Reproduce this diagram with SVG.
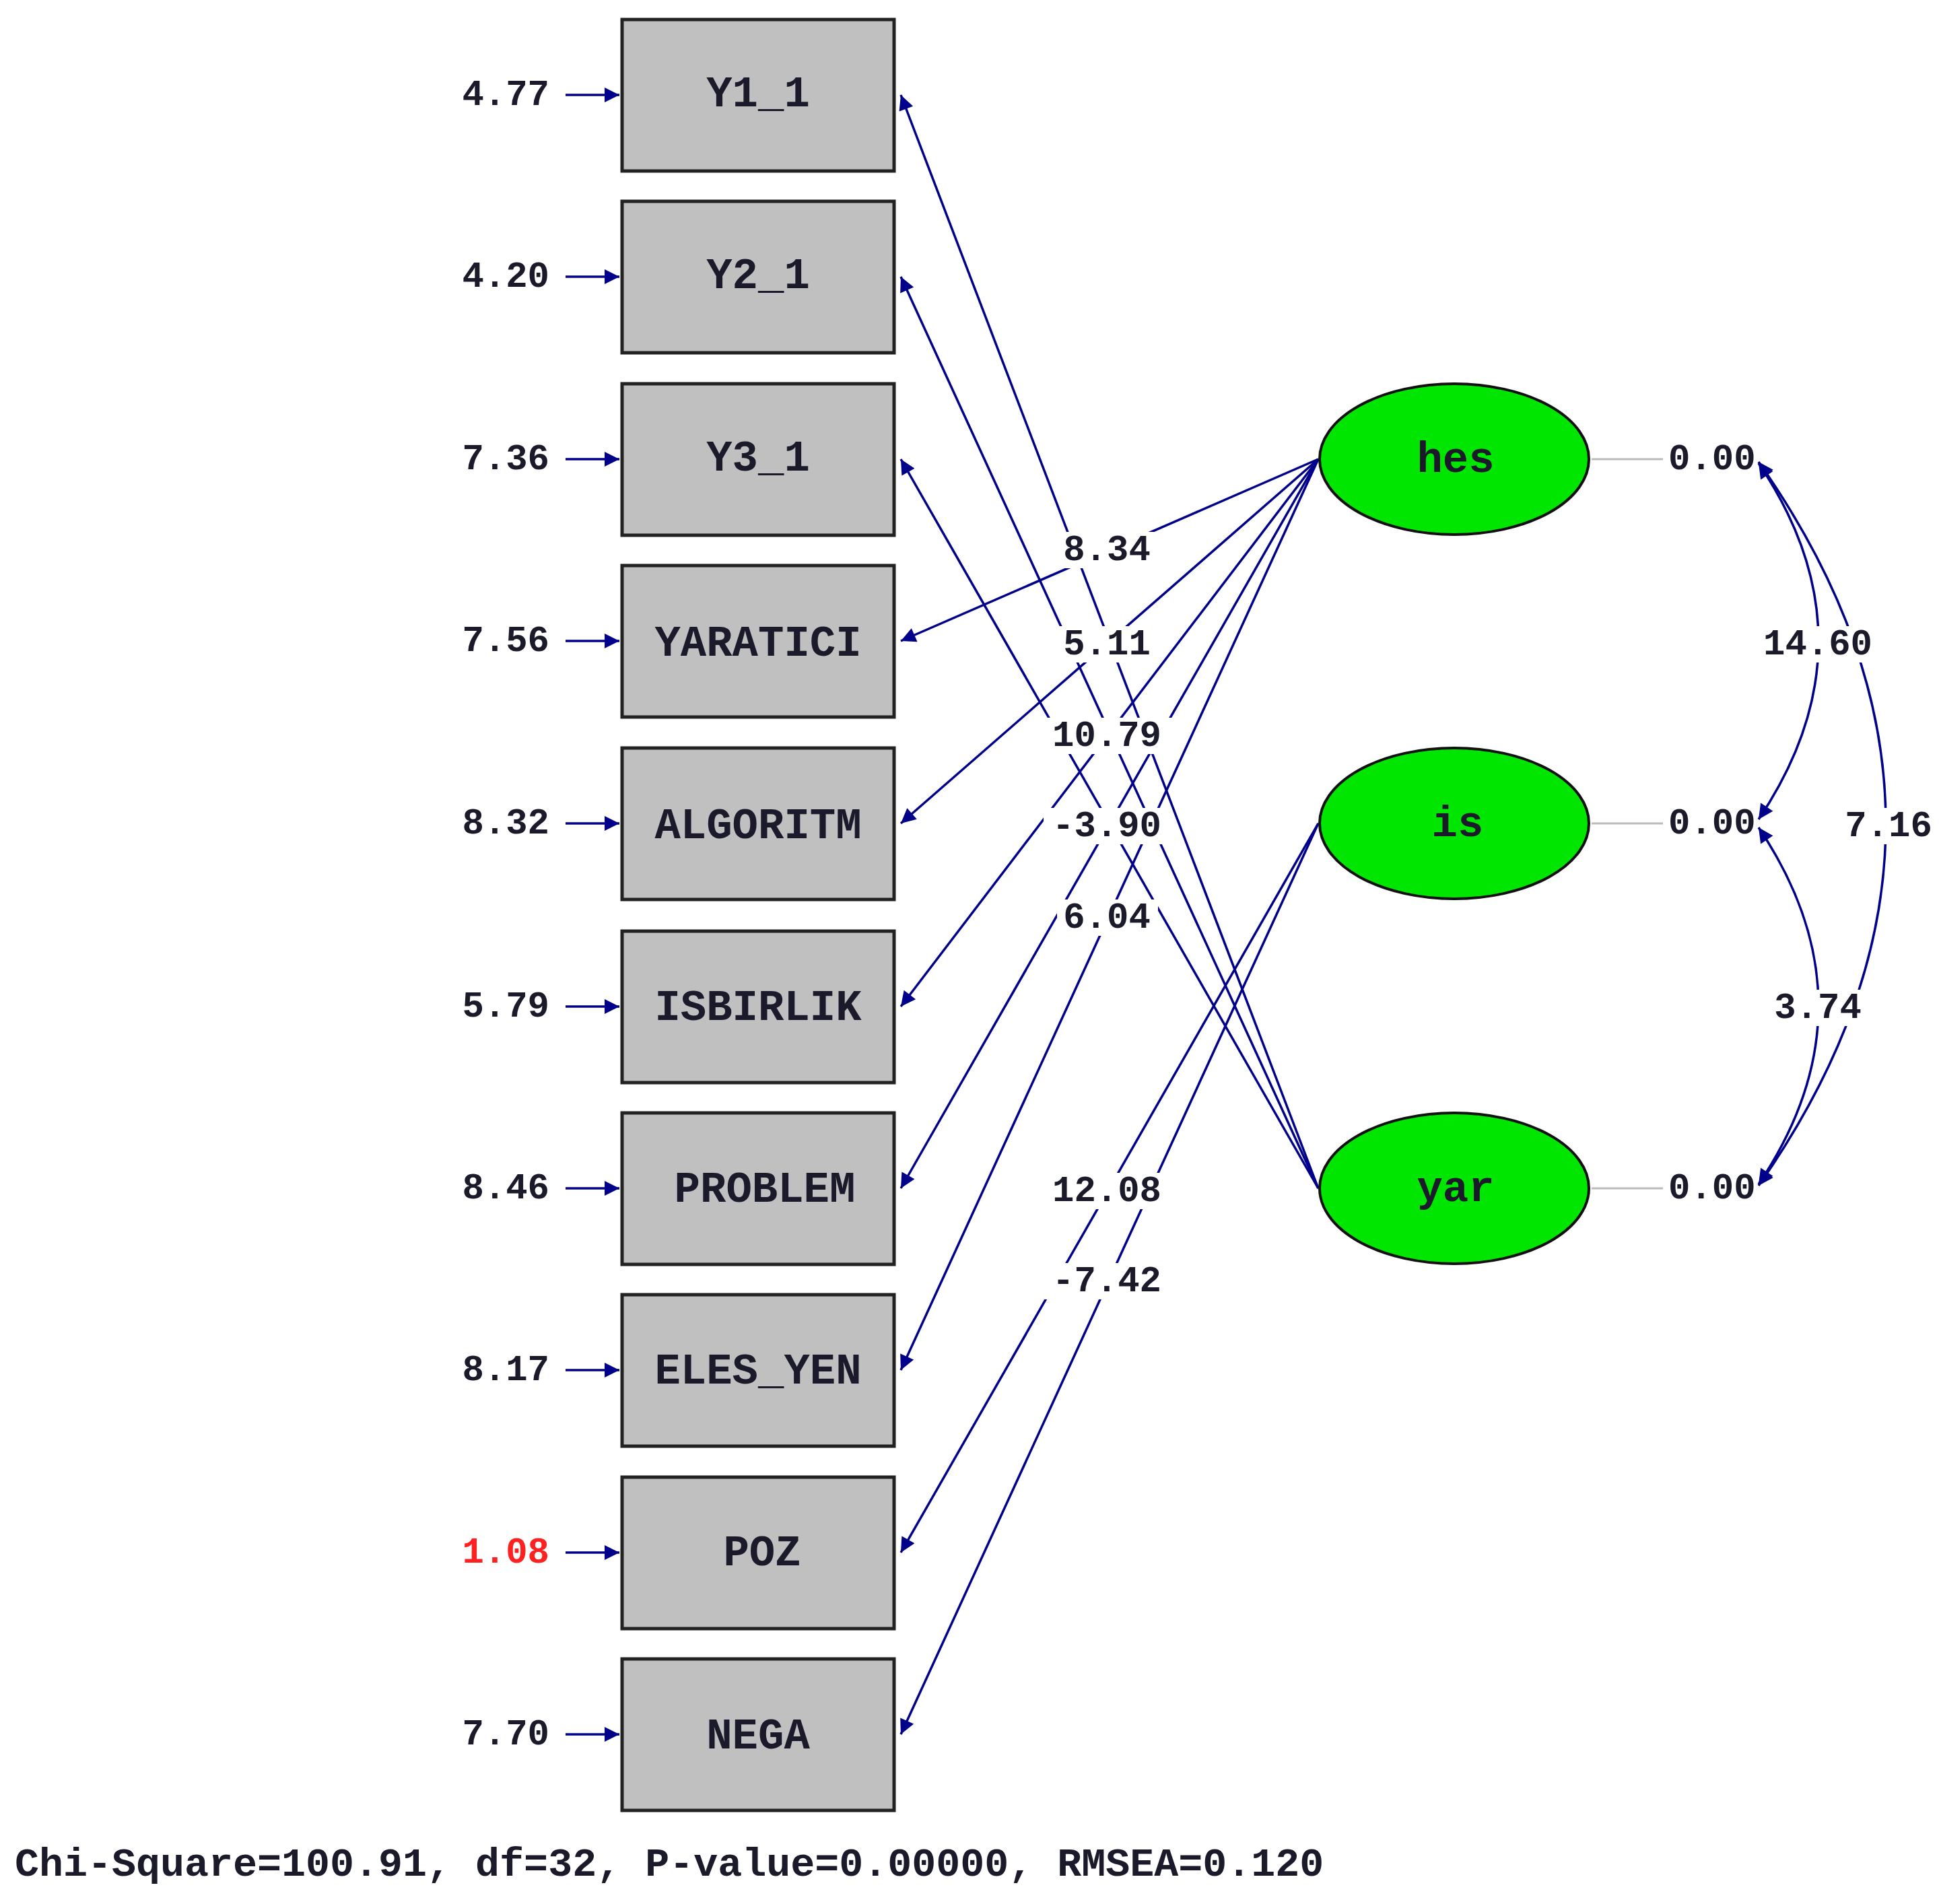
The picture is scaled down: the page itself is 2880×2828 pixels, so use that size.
<svg xmlns="http://www.w3.org/2000/svg" width="2880" height="2828" viewBox="0 0 2880 2828">
<style>
text{font-family:"Liberation Mono","Courier New",monospace;font-weight:bold;fill:#1a1a2a}
.box{fill:#c0c0c0;stroke:#222;stroke-width:5}
.lbl{font-size:64px;text-anchor:middle;dominant-baseline:central}
.num{font-size:54px;dominant-baseline:central}
.ell{fill:#00e600;stroke:#111;stroke-width:4}
.ln{stroke:#00008b;stroke-width:3.5;fill:none}
.gl{stroke:#bbb;stroke-width:3;fill:none}
.bg{fill:#fff}
</style>
<defs>
<marker id="ah" viewBox="0 0 10 10" refX="10" refY="5" markerWidth="34" markerHeight="22" markerUnits="userSpaceOnUse" orient="auto-start-reverse"><path d="M0,0 L10,5 L0,10 z" fill="#00008b"/></marker>
</defs>
<rect width="2880" height="2828" fill="#fff"/>
<g id="connectors">
<g class="ln">
<line x1="840" y1="141" x2="920" y2="141" marker-end="url(#ah)"/>
<line x1="840" y1="411" x2="920" y2="411" marker-end="url(#ah)"/>
<line x1="840" y1="682" x2="920" y2="682" marker-end="url(#ah)"/>
<line x1="840" y1="952" x2="920" y2="952" marker-end="url(#ah)"/>
<line x1="840" y1="1223" x2="920" y2="1223" marker-end="url(#ah)"/>
<line x1="840" y1="1495" x2="920" y2="1495" marker-end="url(#ah)"/>
<line x1="840" y1="1765" x2="920" y2="1765" marker-end="url(#ah)"/>
<line x1="840" y1="2035" x2="920" y2="2035" marker-end="url(#ah)"/>
<line x1="840" y1="2306" x2="920" y2="2306" marker-end="url(#ah)"/>
<line x1="840" y1="2576" x2="920" y2="2576" marker-end="url(#ah)"/>
<line x1="1958" y1="682" x2="1338" y2="952" marker-end="url(#ah)"/>
<line x1="1958" y1="682" x2="1338" y2="1223" marker-end="url(#ah)"/>
<line x1="1958" y1="682" x2="1338" y2="1495" marker-end="url(#ah)"/>
<line x1="1958" y1="682" x2="1338" y2="1765" marker-end="url(#ah)"/>
<line x1="1958" y1="682" x2="1338" y2="2035" marker-end="url(#ah)"/>
<line x1="1958" y1="1223" x2="1338" y2="2306" marker-end="url(#ah)"/>
<line x1="1958" y1="1223" x2="1338" y2="2576" marker-end="url(#ah)"/>
<line x1="1958" y1="1765" x2="1338" y2="141" marker-end="url(#ah)"/>
<line x1="1958" y1="1765" x2="1338" y2="411" marker-end="url(#ah)"/>
<line x1="1958" y1="1765" x2="1338" y2="682" marker-end="url(#ah)"/>
<path d="M2612,688 Q2790,952 2612,1217" marker-start="url(#ah)" marker-end="url(#ah)"/>
<path d="M2612,1229 Q2790,1494 2612,1759" marker-start="url(#ah)" marker-end="url(#ah)"/>
<path d="M2612,686 Q2990,1223 2612,1761" marker-start="url(#ah)" marker-end="url(#ah)"/>
</g>
<line class="gl" x1="2364" y1="682" x2="2470" y2="682"/>
<line class="gl" x1="2364" y1="1223" x2="2470" y2="1223"/>
<line class="gl" x1="2364" y1="1765" x2="2470" y2="1765"/>
</g>
<g id="path-labels">
<rect class="bg" x="1570" y="790" width="150" height="54"/>
<rect class="bg" x="1570" y="930" width="150" height="54"/>
<rect class="bg" x="1550" y="1066" width="190" height="54"/>
<rect class="bg" x="1550" y="1200" width="190" height="54"/>
<rect class="bg" x="1570" y="1336" width="150" height="54"/>
<rect class="bg" x="1550" y="1742" width="190" height="54"/>
<rect class="bg" x="1550" y="1876" width="190" height="54"/>
<rect class="bg" x="2600" y="930" width="200" height="54"/>
<rect class="bg" x="2620" y="1470" width="160" height="54"/>
<rect class="bg" x="2730" y="1200" width="150" height="54"/>
<text class="num" x="1644" y="817" text-anchor="middle">8.34</text>
<text class="num" x="1644" y="957" text-anchor="middle">5.11</text>
<text class="num" x="1644" y="1093" text-anchor="middle">10.79</text>
<text class="num" x="1644" y="1227" text-anchor="middle">-3.90</text>
<text class="num" x="1644" y="1363" text-anchor="middle">6.04</text>
<text class="num" x="1644" y="1769" text-anchor="middle">12.08</text>
<text class="num" x="1644" y="1903" text-anchor="middle">-7.42</text>
<text class="num" x="2700" y="957" text-anchor="middle">14.60</text>
<text class="num" x="2700" y="1497" text-anchor="middle">3.74</text>
<text class="num" x="2805" y="1227" text-anchor="middle">7.16</text>
<text class="num" x="2478" y="682">0.00</text>
<text class="num" x="2478" y="1223">0.00</text>
<text class="num" x="2478" y="1765">0.00</text>
</g>
<g id="errors">
<text class="num" x="816" y="141" text-anchor="end">4.77</text>
<text class="num" x="816" y="411" text-anchor="end">4.20</text>
<text class="num" x="816" y="682" text-anchor="end">7.36</text>
<text class="num" x="816" y="952" text-anchor="end">7.56</text>
<text class="num" x="816" y="1223" text-anchor="end">8.32</text>
<text class="num" x="816" y="1495" text-anchor="end">5.79</text>
<text class="num" x="816" y="1765" text-anchor="end">8.46</text>
<text class="num" x="816" y="2035" text-anchor="end">8.17</text>
<text class="num" x="816" y="2306" text-anchor="end" style="fill:#ff2020">1.08</text>
<text class="num" x="816" y="2576" text-anchor="end">7.70</text>
</g>
<g id="Y1_1"><rect class="box" x="924" y="29" width="404" height="225"/><text class="lbl" x="1126" y="141">Y1_1</text></g>
<g id="Y2_1"><rect class="box" x="924" y="299" width="404" height="225"/><text class="lbl" x="1126" y="411">Y2_1</text></g>
<g id="Y3_1"><rect class="box" x="924" y="570" width="404" height="225"/><text class="lbl" x="1126" y="682">Y3_1</text></g>
<g id="YARATICI"><rect class="box" x="924" y="840" width="404" height="225"/><text class="lbl" x="1126" y="957">YARATICI</text></g>
<g id="ALGORITM"><rect class="box" x="924" y="1111" width="404" height="225"/><text class="lbl" x="1126" y="1228">ALGORITM</text></g>
<g id="ISBIRLIK"><rect class="box" x="924" y="1383" width="404" height="225"/><text class="lbl" x="1126" y="1498">ISBIRLIK</text></g>
<g id="PROBLEM"><rect class="box" x="924" y="1653" width="404" height="225"/><text class="lbl" x="1136" y="1768">PROBLEM</text></g>
<g id="ELES_YEN"><rect class="box" x="924" y="1923" width="404" height="225"/><text class="lbl" x="1126" y="2038">ELES_YEN</text></g>
<g id="POZ"><rect class="box" x="924" y="2194" width="404" height="225"/><text class="lbl" x="1132" y="2308">POZ</text></g>
<g id="NEGA"><rect class="box" x="924" y="2464" width="404" height="225"/><text class="lbl" x="1126" y="2580">NEGA</text></g>
<g id="hes"><ellipse class="ell" cx="2160" cy="682" rx="200" ry="112"/><text class="lbl" x="2162" y="684">hes</text></g>
<g id="is"><ellipse class="ell" cx="2160" cy="1223" rx="200" ry="112"/><text class="lbl" x="2165" y="1225">is</text></g>
<g id="yar"><ellipse class="ell" cx="2160" cy="1765" rx="200" ry="112"/><text class="lbl" x="2162" y="1767">yar</text></g>
<text class="num" x="22" y="2770" style="font-size:60px">Chi-Square=100.91, df=32, P-value=0.00000, RMSEA=0.120</text>
</svg>
